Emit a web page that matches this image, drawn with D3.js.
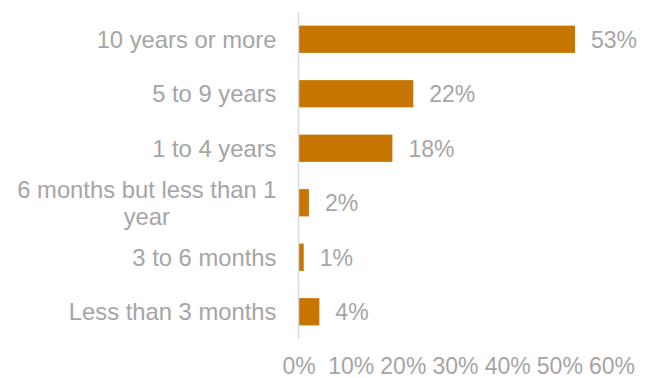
<!DOCTYPE html>
<html>
<head>
<meta charset="utf-8">
<script src="https://cdn.jsdelivr.net/npm/d3@7/dist/d3.min.js"></script>
<style>
  html, body { margin: 0; padding: 0; background: #fff; }
  svg { display: block; }
  text { font-family: "Liberation Sans", Arial, sans-serif; fill: #a5a5a5; }
</style>
</head>
<body>
<svg id="chart" width="650" height="378"></svg>
<script>
// Length of time in the role
const categories = [
  "10 years or more",
  "5 to 9 years",
  "1 to 4 years",
  "6 months but less than 1 year",
  "3 to 6 months",
  "Less than 3 months"
];
const values = [53, 22, 18, 2, 1, 4];
const tickValues = [0, 10, 20, 30, 40, 50, 60];

const width = 650, height = 378;
const margin = { top: 12, right: 38.5, bottom: 39, left: 298.5 };
const catFontSize = 23.8;
const numFontSize = 23;
const barColor = "#c57500";

const svg = d3.select("#chart");

const x = d3.scaleLinear()
  .domain([0, 60])
  .range([margin.left, width - margin.right]);

const y = d3.scaleBand()
  .domain(categories)
  .range([margin.top, height - margin.bottom])
  .paddingInner(0.5)
  .paddingOuter(0.25);

// Bars
svg.append("g")
  .selectAll("rect")
  .data(categories)
  .join("rect")
  .attr("x", x(0))
  .attr("y", d => y(d))
  .attr("width", (d, i) => x(values[i]) - x(0))
  .attr("height", y.bandwidth())
  .attr("fill", barColor);

// Vertical category axis line
svg.append("line")
  .attr("x1", x(0)).attr("x2", x(0))
  .attr("y1", margin.top).attr("y2", height - margin.bottom)
  .attr("stroke", "#d9d9d9")
  .attr("stroke-width", 1.5);

// Value labels
svg.append("g")
  .selectAll("text")
  .data(categories)
  .join("text")
  .attr("x", (d, i) => x(values[i]) + 16)
  .attr("y", d => y(d) + y.bandwidth() / 2)
  .attr("dy", "0.36em")
  .attr("font-size", numFontSize)
  .text((d, i) => values[i] + "%");

// Category labels, wrapped to fit the label column and centred as a block
const labelRight = x(0) - 22;
const maxLabelWidth = 266;
const lineHeight = 27;
const catG = svg.append("g");
categories.forEach(cat => {
  const cy = y(cat) + y.bandwidth() / 2;
  const t = catG.append("text").attr("font-size", catFontSize);
  const words = cat.split(" ");
  const lines = [];
  let line = [];
  const probe = t.append("tspan");
  words.forEach(w => {
    line.push(w);
    probe.text(line.join(" "));
    if (probe.node().getComputedTextLength() > maxLabelWidth && line.length > 1) {
      line.pop();
      lines.push(line.join(" "));
      line = [w];
    }
  });
  lines.push(line.join(" "));
  probe.remove();

  if (lines.length === 1) {
    t.attr("x", labelRight).attr("y", cy).attr("dy", "0.36em")
      .attr("text-anchor", "end").text(lines[0]);
  } else {
    const spans = lines.map(l => t.append("tspan").text(l));
    const widest = d3.max(spans, s => s.node().getComputedTextLength());
    const cx = labelRight - widest / 2;
    const y0 = cy - (lines.length - 1) * lineHeight / 2;
    t.attr("text-anchor", "middle");
    spans.forEach((s, i) => s.attr("x", cx).attr("y", y0 + i * lineHeight).attr("dy", "0.36em"));
  }
});

// Percentage axis along the bottom
const xAxis = d3.axisBottom(x)
  .tickValues(tickValues)
  .tickFormat(d => d + "%")
  .tickSize(0)
  .tickPadding(0);

const axisG = svg.append("g")
  .attr("transform", `translate(0, 357.5)`)
  .call(xAxis);
axisG.select(".domain").remove();
axisG.selectAll("text")
  .attr("font-size", numFontSize)
  .attr("fill", "#a5a5a5")
  .attr("font-family", "Liberation Sans, Arial, sans-serif");
</script>
</body>
</html>
